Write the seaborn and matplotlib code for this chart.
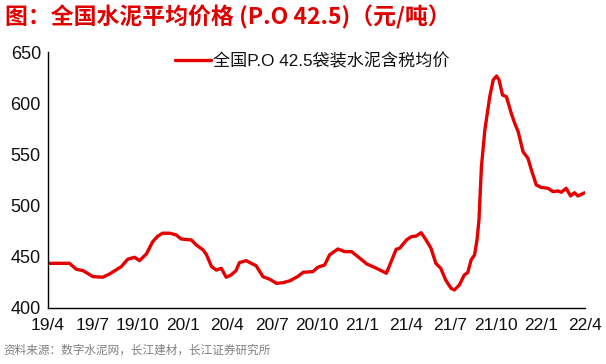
import matplotlib
matplotlib.use("Agg")
import matplotlib.pyplot as plt
import seaborn as sns
import pandas as pd

dates = [
    "2019-04-01", "2019-04-25", "2019-05-15", "2019-05-29", "2019-06-12", "2019-07-02",
    "2019-07-22", "2019-08-05", "2019-08-29", "2019-09-11", "2019-09-25", "2019-10-05",
    "2019-10-19", "2019-11-01", "2019-11-11", "2019-11-21", "2019-12-06", "2019-12-19",
    "2019-12-29", "2020-01-19", "2020-01-29", "2020-02-12", "2020-02-19", "2020-02-29",
    "2020-03-10", "2020-03-20", "2020-03-30", "2020-04-09", "2020-04-19", "2020-04-26",
    "2020-05-10", "2020-05-20", "2020-05-30", "2020-06-13", "2020-06-27", "2020-07-11",
    "2020-07-24", "2020-08-07", "2020-08-24", "2020-09-03", "2020-09-23", "2020-10-03",
    "2020-10-17", "2020-10-27", "2020-11-13", "2020-11-27", "2020-12-11", "2020-12-28",
    "2021-01-11", "2021-01-31", "2021-02-20", "2021-03-12", "2021-03-19", "2021-04-02",
    "2021-04-12", "2021-04-22", "2021-05-02", "2021-05-12", "2021-05-22", "2021-06-01",
    "2021-06-11", "2021-06-21", "2021-07-02", "2021-07-09", "2021-07-19", "2021-07-29",
    "2021-08-05", "2021-08-12", "2021-08-19", "2021-08-24", "2021-08-28", "2021-09-02",
    "2021-09-09", "2021-09-19", "2021-09-26", "2021-10-03", "2021-10-08", "2021-10-15",
    "2021-10-23", "2021-11-02", "2021-11-09", "2021-11-16", "2021-11-26", "2021-12-06",
    "2021-12-13", "2021-12-23", "2022-01-02", "2022-01-16", "2022-01-26", "2022-02-05",
    "2022-02-12", "2022-02-22", "2022-03-03", "2022-03-11", "2022-03-18", "2022-04-01",
]
prices = [
    443.6, 443.6, 443.6, 437.8, 436.4, 430.6,
    430.0, 433.2, 440.4, 447.6, 449.5, 446.2,
    452.7, 464.7, 470.0, 473.0, 473.0, 471.3,
    467.4, 466.4, 461.5, 456.6, 451.8, 440.4,
    437.0, 438.7, 430.0, 432.2, 436.4, 444.3,
    446.2, 443.6, 441.3, 430.6, 428.0, 424.0,
    424.7, 426.5, 431.0, 434.8, 435.5, 439.7,
    442.0, 451.8, 457.6, 455.0, 455.0, 448.5,
    443.0, 438.7, 433.9, 457.3, 458.3, 466.4,
    469.6, 470.3, 473.5, 466.4, 458.3, 443.6,
    438.7, 427.3, 419.2, 417.6, 422.5, 432.2,
    434.5, 446.9, 451.8, 466.4, 486.0, 538.0,
    573.8, 606.4, 622.7, 626.6, 622.7, 608.0,
    606.4, 590.0, 580.4, 572.2, 552.6, 546.2,
    534.8, 520.1, 517.8, 516.9, 513.6, 514.3,
    513.0, 516.9, 509.4, 512.6, 509.4, 512.6,
]
tick_dates = ["2019-04-01", "2019-07-01", "2019-10-01", "2020-01-01", "2020-04-01",
              "2020-07-01", "2020-10-01", "2021-01-01", "2021-04-01", "2021-07-01",
              "2021-10-01", "2022-01-01", "2022-04-01"]
tick_labels = ["19/4", "19/7", "19/10", "20/1", "20/4", "20/7", "20/10",
               "21/1", "21/4", "21/7", "21/10", "22/1", "22/4"]
series_name = "全国P.O 42.5袋装水泥含税均价"
title = "图：全国水泥平均价格 (P.O 42.5)（元/吨）"
source = "资料来源：数字水泥网，长江建材，长江证券研究所"

sns.set_theme(style="white")
plt.rcParams['font.family'] = ['Liberation Sans', 'Noto Sans CJK SC', 'DejaVu Sans']

df = pd.DataFrame({"date": pd.to_datetime(dates), "price": prices, "series": series_name})

fig = plt.figure(figsize=(6.06, 3.64), dpi=100)
ax = fig.add_axes([0.079, 0.154, 0.886, 0.703])

sns.lineplot(data=df, x="date", y="price", hue="series", palette=["#E60000"],
             linewidth=2.4, ax=ax)

ax.set_xlim(pd.Timestamp("2019-04-01"), pd.Timestamp("2022-04-01"))
ax.set_ylim(400, 650)
ax.set_yticks([400, 450, 500, 550, 600, 650])
ax.set_xticks(pd.to_datetime(tick_dates))
ax.set_xticklabels(tick_labels)
ax.set_xlabel("")
ax.set_ylabel("")

for s in ["top", "right"]:
    ax.spines[s].set_visible(False)
for s in ["left", "bottom"]:
    ax.spines[s].set_color("black")
    ax.spines[s].set_linewidth(1.0)

ax.tick_params(axis="x", direction="in", length=4, width=1, color="black",
               labelsize=12.5, pad=7, labelcolor="#111111")
ax.tick_params(axis="y", length=0, labelsize=13, pad=5, labelcolor="#111111")

leg = ax.legend(loc="center", bbox_to_anchor=(0.492, 0.966), frameon=False,
                fontsize=12.3, handlelength=2.1, handletextpad=0.1, borderaxespad=0)
for t in leg.get_texts():
    t.set_color("#111111")

fig.text(0.008, 0.953, title, color="#E00000", fontsize=16.5, fontweight="bold",
         family=["Noto Sans CJK SC"], ha="left", va="center")
fig.text(0.006, 0.038, source, color="#7F7F7F", fontsize=8.4,
         family=["Noto Sans CJK SC"], ha="left", va="center")

fig.savefig("out.png", dpi=100)
